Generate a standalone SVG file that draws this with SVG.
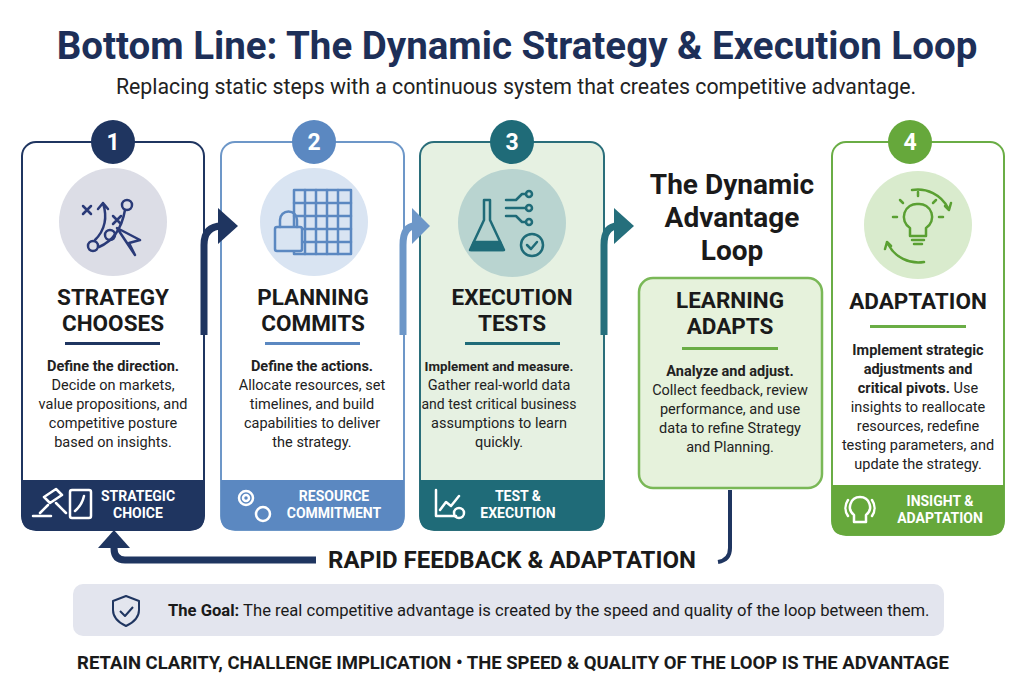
<svg xmlns="http://www.w3.org/2000/svg" width="1024" height="682" viewBox="0 0 1024 682">
<style>
text{font-family:Roboto,"Liberation Sans",sans-serif;text-anchor:middle}
.t{font-size:38.5px;font-weight:700;fill:#1d2f58}
.sub{font-size:21.3px;fill:#222}
.h{font-size:22.5px;font-weight:700;fill:#1a1a1a}
.b{font-size:14.5px;fill:#222}
.bb{font-weight:700}
.ft{font-size:14px;font-weight:700;fill:#fff}
.num{font-size:23px;font-weight:700;fill:#fff}
.ic{fill:none;stroke-width:2.5;stroke-linecap:round;stroke-linejoin:round}
</style>
<rect width="1024" height="682" fill="#fff"/>
<text class="t" x="517" y="59">Bottom Line: The Dynamic Strategy &amp; Execution Loop</text>
<text class="sub" x="516" y="94">Replacing static steps with a continuous system that creates competitive advantage.</text>

<g id="card1">
<rect x="22" y="142" width="182" height="388" rx="14" fill="#fff" stroke="#1f3560" stroke-width="2"/>
<path d="M22,480 H204 V518 Q204,530 192,530 H34 Q22,530 22,518 Z" fill="#1f3560"/>
<circle cx="113" cy="142" r="22" fill="#1f3560"/><text class="num" x="113" y="150">1</text>
<circle cx="113" cy="222" r="54" fill="#dcdde6"/>
<g class="ic" stroke="#2a3a78"><path d="M83,206 l8,8 M91,206 l-8,8 M113,216 l8,8 M121,216 l-8,8"/><path d="M95,240 Q110,225 103,203 M103,203 l-5,6 M103,203 l5,6 M99,247 Q120,238 125,210"/><circle cx="127" cy="205" r="5"/><circle cx="110" cy="235" r="5"/><circle cx="93" cy="246" r="5"/><path d="M117,228 L135,255 L129,243 L140,240 Z"/></g>
<text class="h" x="113" y="305">STRATEGY</text><text class="h" x="113" y="331">CHOOSES</text>
<rect x="65" y="342" width="95" height="3" fill="#1f3560"/>
<text class="b" x="113" y="371"><tspan class="bb">Define the direction.</tspan></text>
<text class="b" x="113" y="390">Decide on markets,</text>
<text class="b" x="113" y="409">value propositions, and</text>
<text class="b" x="113" y="428">competitive posture</text>
<text class="b" x="113" y="447">based on insights.</text>
<g class="ic" stroke="#fff" stroke-width="1.6"><path d="M40,513 l8,-8 M44,497 l12,-8 l6,6 l-12,8 z M56,503 l10,10 M33,516 h18"/><rect x="70" y="490" width="21" height="28" rx="2"/><path d="M75,511 Q82,505 84,496"/></g>
<text class="ft" x="138" y="501">STRATEGIC</text><text class="ft" x="138" y="518">CHOICE</text>
</g>

<g id="card2">
<rect x="221" y="142" width="183" height="388" rx="14" fill="#fff" stroke="#6d97c8" stroke-width="2"/>
<path d="M221,480 H404 V518 Q404,530 392,530 H233 Q221,530 221,518 Z" fill="#5b88c1"/>
<circle cx="314" cy="142" r="22" fill="#5b88c1"/><text class="num" x="314" y="150">2</text>
<circle cx="314" cy="222" r="54" fill="#d9e4f2"/>
<g class="ic" stroke="#5b88c1" stroke-width="1.8"><rect x="294" y="190" width="57" height="64"/><path d="M294,203h57M294,216h57M294,229h57M294,242h57M305,190v64M316,190v64M327,190v64M338,190v64"/><rect x="275" y="227" width="27" height="24" rx="2" fill="#d9e4f2"/><path d="M280,227 v-7 a8,8 0 0 1 17,0 v7"/></g>
<text class="h" x="313" y="305">PLANNING</text><text class="h" x="313" y="331">COMMITS</text>
<rect x="265" y="342" width="95" height="3" fill="#5b88c1"/>
<text class="b" x="312" y="371"><tspan class="bb">Define the actions.</tspan></text>
<text class="b" x="312" y="390">Allocate resources, set</text>
<text class="b" x="312" y="409">timelines, and build</text>
<text class="b" x="312" y="428">capabilities to deliver</text>
<text class="b" x="312" y="447">the strategy.</text>
<g class="ic" stroke="#fff" stroke-width="1.6"><circle cx="246" cy="498" r="7"/><circle cx="246" cy="498" r="3"/><circle cx="263" cy="514" r="7"/></g>
<text class="ft" x="334" y="501">RESOURCE</text><text class="ft" x="334" y="518">COMMITMENT</text>
</g>

<g id="card3">
<rect x="420" y="142" width="184" height="388" rx="14" fill="#e6f1e2" stroke="#2a6e7a" stroke-width="2"/>
<path d="M420,480 H604 V518 Q604,530 592,530 H432 Q420,530 420,518 Z" fill="#1f6b78"/>
<circle cx="512" cy="142" r="22" fill="#1f6b78"/><text class="num" x="512" y="150">3</text>
<circle cx="512" cy="223" r="54" fill="#b9d4d0"/>
<g class="ic" stroke="#1f6b78" stroke-width="2"><path d="M484,200 v20 l-14,30 h34 l-14,-30 v-20 z"/><path d="M474,242 h26 l3,8 h-32 z" fill="#1f6b78"/><path d="M506,200h10l6,-6h4M506,208h20M506,216h10l6,6h4"/><circle cx="529" cy="194" r="3"/><circle cx="529" cy="208" r="3"/><circle cx="529" cy="222" r="3"/><circle cx="532" cy="245" r="11" fill="#b9d4d0"/><path d="M527,245 l4,4 l6,-7"/></g>
<text class="h" x="512" y="305">EXECUTION</text><text class="h" x="512" y="331">TESTS</text>
<rect x="465" y="342" width="95" height="3" fill="#1f6b78"/>
<text class="b" x="499" y="371" style="font-size:13.3px"><tspan class="bb">Implement and measure.</tspan></text>
<text class="b" x="499" y="390">Gather real-world data</text>
<text class="b" x="499" y="409" style="font-size:14px">and test critical business</text>
<text class="b" x="499" y="428">assumptions to learn</text>
<text class="b" x="499" y="447">quickly.</text>
<g class="ic" stroke="#fff" stroke-width="1.5"><path d="M436,490 v26 h20 M440,510 l6,-8 l5,4 l8,-10"/><circle cx="459" cy="513" r="5"/></g>
<text class="ft" x="518" y="501">TEST &amp;</text><text class="ft" x="518" y="518">EXECUTION</text>
</g>

<g id="loop-title">
<text x="732" y="194" style="font-size:28px;font-weight:700;fill:#1a1a1a">The Dynamic</text>
<text x="732" y="227" style="font-size:28px;font-weight:700;fill:#1a1a1a">Advantage</text>
<text x="732" y="260" style="font-size:28px;font-weight:700;fill:#1a1a1a">Loop</text>
</g>

<g id="card-learning">
<rect x="639" y="278" width="183" height="210" rx="14" fill="#e6f2dc" stroke="#7ab857" stroke-width="2.5"/>
<text class="h" x="730" y="308">LEARNING</text><text class="h" x="730" y="334">ADAPTS</text>
<rect x="682" y="347" width="96" height="3" fill="#6aad45"/>
<text class="b" x="730" y="376"><tspan class="bb">Analyze and adjust.</tspan></text>
<text class="b" x="730" y="395">Collect feedback, review</text>
<text class="b" x="730" y="414">performance, and use</text>
<text class="b" x="730" y="433">data to refine Strategy</text>
<text class="b" x="730" y="452">and Planning.</text>
</g>

<g id="card4">
<rect x="832" y="142" width="172" height="393" rx="14" fill="#fff" stroke="#6aad45" stroke-width="2"/>
<path d="M832,485 H1004 V523 Q1004,535 992,535 H844 Q832,535 832,523 Z" fill="#66a83b"/>
<circle cx="910" cy="142" r="22" fill="#66a83b"/><text class="num" x="910" y="150">4</text>
<circle cx="918" cy="225" r="54" fill="#d9ebcd"/>
<g class="ic" stroke="#5aa032" stroke-width="2.5"><path d="M912,190 a34,34 0 0 1 36,18 M945,206 l4,4 l2,-7"/><path d="M924,262 a34,34 0 0 1 -36,-18 M891,246 l-4,-4 l-2,7"/><path d="M918,204 a13,13 0 0 0 -8,24 v8 h16 v-8 a13,13 0 0 0 -8,-24 z M912,240 h12 M914,244 h8"/><path d="M918,196 v-4 M903,203 l-3,-3 M933,203 l3,-3 M897,217 h-4 M939,217 h4"/></g>
<text class="h" x="918" y="309">ADAPTATION</text>
<rect x="870" y="325" width="96" height="3" fill="#6aad45"/>
<text class="b bb" x="918" y="355">Implement strategic</text>
<text class="b bb" x="918" y="374">adjustments and</text>
<text class="b" x="918" y="393"><tspan class="bb">critical pivots.</tspan> Use</text>
<text class="b" x="918" y="412">insights to reallocate</text>
<text class="b" x="918" y="431">resources, redefine</text>
<text class="b" x="918" y="450">testing parameters, and</text>
<text class="b" x="918" y="469">update the strategy.</text>
<g class="ic" stroke="#fff" stroke-width="1.6"><path d="M860,497 a10,10 0 0 0 -6,18 v7 h12 v-7 a10,10 0 0 0 -6,-18 z"/><path d="M848,500 a14,14 0 0 0 0,16 M872,500 a14,14 0 0 1 0,16"/></g>
<text class="ft" x="940" y="506">INSIGHT &amp;</text><text class="ft" x="940" y="523">ADAPTATION</text>
</g>

<g id="connectors" fill="none" stroke-width="7">
<path d="M204,335 V245 Q204,226 222,226" stroke="#1f3560"/>
<polygon points="218,208 238,226 218,244" fill="#1f3560" stroke="none"/>
<path d="M403,335 V245 Q403,226 415,226" stroke="#6d97c8"/>
<polygon points="412,208 430,226 412,244" fill="#6d97c8" stroke="none"/>
<path d="M604,335 V245 Q604,226 618,226" stroke="#256f7c"/>
<polygon points="614,208 634,226 614,244" fill="#256f7c" stroke="none"/>
<path d="M730,490 V548 Q730,560 718,562" stroke="#1f3560" stroke-width="4"/>
<path d="M316,560 H125 Q114,560 114,548 V540" stroke="#1f3560"/>
<polygon points="98,548 114,530 130,548" fill="#1f3560" stroke="none"/>
</g>

<text x="512" y="568" style="font-size:24px;font-weight:700;fill:#1a1a1a">RAPID FEEDBACK &amp; ADAPTATION</text>

<g id="goal">
<rect x="73" y="584" width="871" height="52" rx="10" fill="#e3e5ee"/>
<path d="M126,596 l13,5 v9 q0,10 -13,16 q-13,-6 -13,-16 v-9 z M120,611 l5,5 l8,-9" fill="none" stroke="#1f3560" stroke-width="2" stroke-linejoin="round"/>
<text x="168" y="616" style="font-size:16.6px;fill:#1a1a1a;text-anchor:start"><tspan font-weight="700">The Goal:</tspan> The real competitive advantage is created by the speed and quality of the loop between them.</text>
</g>
<text x="513" y="669" style="font-size:18.5px;font-weight:700;fill:#1a1a1a">RETAIN CLARITY, CHALLENGE IMPLICATION  •  THE SPEED &amp; QUALITY OF THE LOOP IS THE ADVANTAGE</text>
</svg>
